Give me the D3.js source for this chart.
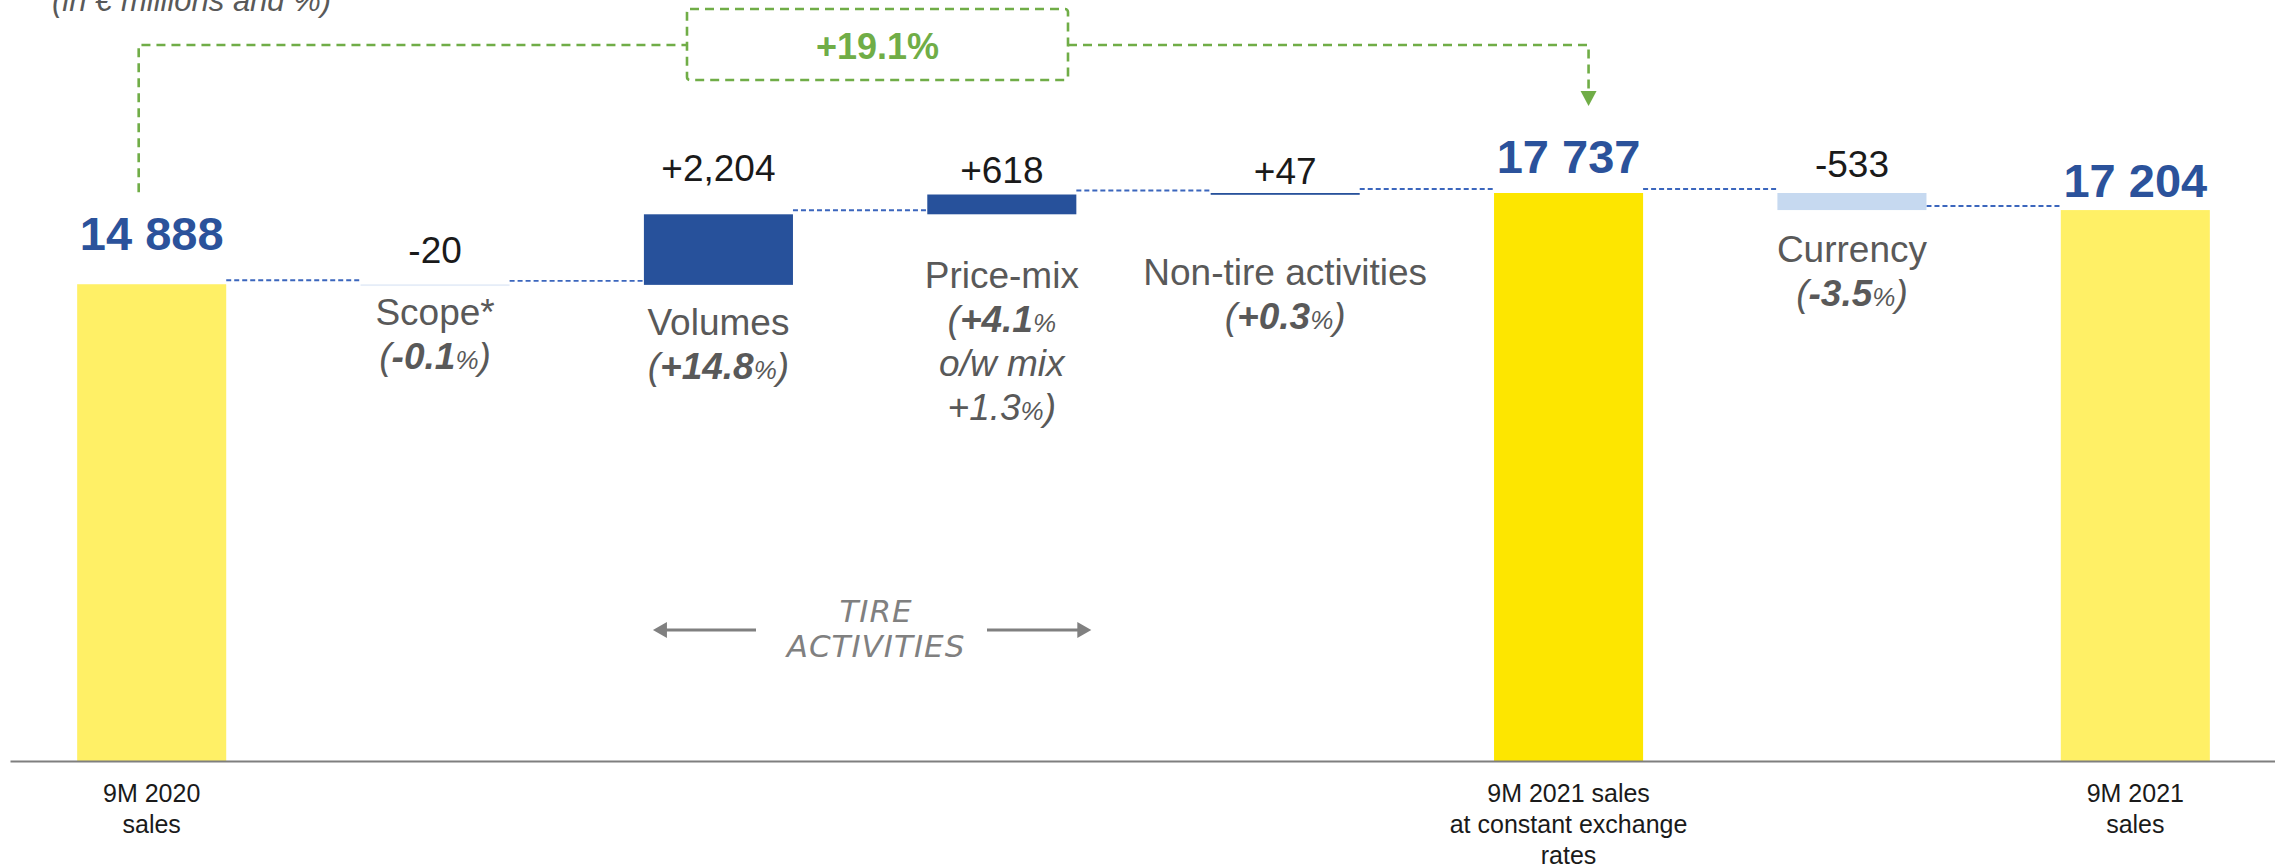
<!DOCTYPE html>
<html>
<head>
<meta charset="utf-8">
<script src="https://cdn.jsdelivr.net/npm/d3@7/dist/d3.min.js"></script>
<style>
  body { margin: 0; background: #fff; }
  svg { display: block; font-family: "Liberation Sans", Arial, sans-serif; }
</style>
</head>
<body>
<script>
// data
var categories = ["9M 2020 sales", "Scope*", "Volumes", "Price-mix", "Non-tire activities",
                  "9M 2021 sales at constant exchange rates", "Currency", "9M 2021 sales"];
var stepType = ["total", "delta", "delta", "delta", "delta", "total", "delta", "total"];
var values = [14888, -20, 2204, 618, 47, 17737, -533, 17204];
var valueLabels = ["14 888", "-20", "+2,204", "+618", "+47", "17 737", "-533", "17 204"];
var pctLabels = [null, "-0.1", "+14.8", "+4.1", "+0.3", null, "-3.5", null];
var mixLabel = "+1.3";
var axisLabels = [["9M 2020", "sales"], [], [], [], [],
                  ["9M 2021 sales", "at constant exchange", "rates"], [], ["9M 2021", "sales"]];
var growthLabel = "+19.1%";
var titleLabel = "(in \u20ac millions and %)";
var groupLabel = ["TIRE", "ACTIVITIES"];

// constants
var width = 2275,
    height = 867,
    baseY = 761,
    blue = "#27519b",
    green = "#70ad47";

var svg = d3.select("body").append("svg")
  .attr("width", width)
  .attr("height", height);

var x = d3.scaleBand()
  .domain(d3.range(categories.length))
  .range([10, 2277])
  .paddingInner(0.474)
  .paddingOuter(0.237);
var bw = x.bandwidth();
var cx = function(i) { return x(i) + bw / 2; };

var y = d3.scaleLinear()
  .domain([0, 17737])
  .range([baseY, 193]);

// running totals
var run = 0;
var steps = values.map(function(v, i) {
  var s0, s1;
  if (stepType[i] === "total") { s0 = 0; s1 = v; }
  else { s0 = run; s1 = run + v; }
  run = s1;
  return { i: i, v: v, lo: Math.min(s0, s1), hi: Math.max(s0, s1), end: s1 };
});

// connectors
svg.append("g").selectAll("line")
  .data(steps.slice(0, -1))
  .enter().append("line")
  .attr("x1", function(d) { return x(d.i) + bw; })
  .attr("x2", function(d) { return x(d.i + 1); })
  .attr("y1", function(d) { return y(d.end) - 4; })
  .attr("y2", function(d) { return y(d.end) - 4; })
  .attr("stroke", "#3b66bd")
  .attr("stroke-width", 1.9)
  .attr("stroke-dasharray", "5,3");

// bars
svg.append("g").selectAll("rect")
  .data(steps)
  .enter().append("rect")
  .attr("x", function(d) { return x(d.i); })
  .attr("width", bw)
  .attr("y", function(d) { return y(d.hi); })
  .attr("height", function(d) { return Math.max(y(d.lo) - y(d.hi), 1.8); })
  .attr("fill", function(d) {
    if (stepType[d.i] === "total") return d.i === 5 ? "#fde600" : "#fff066";
    if (d.i === 1) return "#e6edf8";
    return d.v < 0 ? "#c6d9f0" : blue;
  });

// axis line
var axis = d3.axisBottom(x).tickSize(0).tickFormat("");
svg.append("g")
  .attr("transform", "translate(0," + baseY + ")")
  .call(axis)
  .select(".domain")
  .attr("stroke", "#7f7f7f")
  .attr("stroke-width", 2);

// bottom labels
axisLabels.forEach(function(lines, i) {
  lines.forEach(function(t, k) {
    svg.append("text")
      .attr("x", cx(i))
      .attr("y", 802 + k * 31)
      .attr("text-anchor", "middle")
      .attr("font-size", 25)
      .attr("fill", "#1a1a1a")
      .text(t);
  });
});

// value labels
var lift = [34, 21, 33, 12, 9, 20, 16, 13];
svg.append("g").selectAll("text")
  .data(steps)
  .enter().append("text")
  .attr("x", function(d) { return cx(d.i); })
  .attr("y", function(d) { return y(d.hi) - lift[d.i]; })
  .attr("text-anchor", "middle")
  .attr("font-size", function(d) { return stepType[d.i] === "total" ? 47 : 37; })
  .attr("font-weight", function(d) { return stepType[d.i] === "total" ? "bold" : "normal"; })
  .attr("fill", function(d) { return stepType[d.i] === "total" ? "#2b529b" : "#1a1a1a"; })
  .text(function(d) { return valueLabels[d.i]; });

// category labels under the delta bars
var labelTop = { 1: 325, 2: 335, 3: 288, 4: 285, 6: 262 },
    lineGap = 44;

function addLine(i, yy, parts) {
  var t = svg.append("text")
    .attr("x", cx(i))
    .attr("y", yy)
    .attr("text-anchor", "middle")
    .attr("font-size", 37)
    .attr("fill", "#595959");
  parts.forEach(function(p) {
    t.append("tspan")
      .attr("font-style", p.it ? "italic" : "normal")
      .attr("font-weight", p.b ? "bold" : "normal")
      .attr("font-size", p.s ? 26 : 37)
      .text(p.t);
  });
}

steps.forEach(function(d) {
  if (stepType[d.i] !== "delta") return;
  var y0 = labelTop[d.i];
  addLine(d.i, y0, [{ t: categories[d.i] }]);
  if (d.i === 3) {
    addLine(d.i, y0 + lineGap, [{ t: "(", it: 1 }, { t: pctLabels[d.i], it: 1, b: 1 }, { t: "%", it: 1, s: 1 }]);
    addLine(d.i, y0 + lineGap * 2, [{ t: "o/w mix", it: 1 }]);
    addLine(d.i, y0 + lineGap * 3, [{ t: mixLabel, it: 1 }, { t: "%", it: 1, s: 1 }, { t: ")", it: 1 }]);
  } else {
    addLine(d.i, y0 + lineGap, [{ t: "(", it: 1 }, { t: pctLabels[d.i], it: 1, b: 1 },
                                { t: "%", it: 1, s: 1 }, { t: ")", it: 1 }]);
  }
});

// title
svg.append("text")
  .attr("x", 52)
  .attr("y", 11)
  .attr("font-size", 31)
  .attr("font-style", "italic")
  .attr("fill", "#595959")
  .text(titleLabel);

// growth annotation
var gx0 = cx(0) - 13,
    gx1 = cx(5) + 20,
    gy = 45,
    box = { x0: 687, x1: 1068, y0: 9, y1: 80 };

var ann = svg.append("g")
  .attr("fill", "none")
  .attr("stroke", green)
  .attr("stroke-width", 2.6)
  .attr("stroke-dasharray", "9,6");

ann.append("path")
  .attr("d", "M" + gx0 + "," + (y(values[0]) - 92) + "V" + gy + "H" + box.x0);
ann.append("rect")
  .attr("x", box.x0).attr("y", box.y0)
  .attr("width", box.x1 - box.x0).attr("height", box.y1 - box.y0)
  .attr("rx", 3);
ann.append("path")
  .attr("d", "M" + box.x1 + "," + gy + "H" + gx1 + "V" + (y(values[5]) - 100));

svg.append("path")
  .attr("d", "M" + (gx1 - 8) + "," + (y(values[5]) - 102) + "L" + (gx1 + 8) + "," + (y(values[5]) - 102) +
             "L" + gx1 + "," + (y(values[5]) - 87) + "Z")
  .attr("fill", green);

svg.append("text")
  .attr("x", (box.x0 + box.x1) / 2)
  .attr("y", 59)
  .attr("text-anchor", "middle")
  .attr("font-size", 36)
  .attr("font-weight", "bold")
  .attr("fill", green)
  .text(growthLabel);

// tire activities bracket
var ay = 630,
    aL = x(2) + 9,
    aR = x(3) + bw + 15,
    grey = "#808080";

svg.append("line")
  .attr("x1", aL + 12).attr("x2", 756)
  .attr("y1", ay).attr("y2", ay)
  .attr("stroke", grey).attr("stroke-width", 3);
svg.append("line")
  .attr("x1", 987).attr("x2", aR - 12)
  .attr("y1", ay).attr("y2", ay)
  .attr("stroke", grey).attr("stroke-width", 3);
svg.append("path")
  .attr("d", "M" + aL + "," + ay + "L" + (aL + 14) + "," + (ay - 8) + "L" + (aL + 14) + "," + (ay + 8) + "Z")
  .attr("fill", grey);
svg.append("path")
  .attr("d", "M" + aR + "," + ay + "L" + (aR - 14) + "," + (ay - 8) + "L" + (aR - 14) + "," + (ay + 8) + "Z")
  .attr("fill", grey);

groupLabel.forEach(function(t, k) {
  svg.append("text")
    .attr("x", 876)
    .attr("y", 622 + k * 35)
    .attr("text-anchor", "middle")
    .attr("font-family", "'DejaVu Sans', sans-serif")
    .attr("font-weight", 200)
    .attr("font-style", "italic")
    .attr("font-size", 31)
    .attr("letter-spacing", 1)
    .attr("fill", grey)
    .text(t);
});
</script>
</body>
</html>
